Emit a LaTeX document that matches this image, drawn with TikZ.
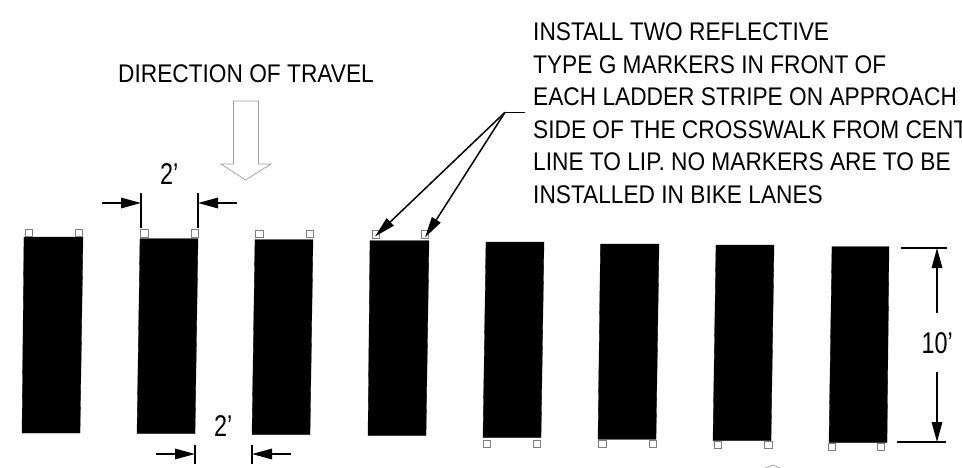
\documentclass[tikz,border=0pt]{standalone}
\usepackage{fontspec}
\usetikzlibrary{arrows.meta}
\setmainfont[FakeStretch=0.89]{Liberation Sans}
\newfontfamily\dimfont[FakeStretch=0.78]{Liberation Sans}
\begin{document}
\begin{tikzpicture}[x=1pt,y=-1pt,
  stripe/.style={fill=black,draw=black,line width=0.3pt},
  marker/.style={draw=black!50,fill=white,line width=0.6pt},
  dimline/.style={draw=black,line width=1.5pt,-{Triangle[length=20pt,width=10.5pt]}},
  leaderline/.style={draw=black,line width=1.5pt,-{Triangle[length=21pt,width=10pt]}},
  tick/.style={draw=black,line width=1.4pt},
  label/.style={font=\fontsize{25.5}{25.5}\selectfont,inner sep=0pt,anchor=base west,text=black},
  dimlabel/.style={font=\dimfont\fontsize{30}{30}\selectfont,inner sep=0pt,anchor=base west,text=black},
  bigarrow/.style={draw=black!38,line width=0.7pt,fill=white}
]
\useasboundingbox (0,0) rectangle (962,468);
\clip (0,0) rectangle (962,468);
% stripes
\foreach \a/\b/\c/\d/\e/\f in {
 24/83/237/22/80/433, 140/198/238.7/137/195/433.7, 255/313/239.5/252/310/434.5,
 370/429/240.5/368/426/435.5, 486/544/242/483/541/437.7, 600.5/659/244/598/656/439.3,
 716/774/245/713/771/440.5, 832/889/246.5/829/887/442.5}{
  \path[stripe] (\a,\c) -- (\b,\c) -- (\e,\f) -- (\d,\f) -- cycle;
}
% markers
\foreach \x/\y in {25/229,75/229,140.5/229.5,191/229.5,255.5/230,306/230,372/230.5,421/230.5,
 483/440,533/440,598.5/440,649/440,714/441,764.5/441,828/443,877/443}{
  \path[marker] (\x,\y) rectangle ++(7.5,7.5);
}
% direction arrow
\node[label] (dir) at (118,83) {DIRECTION OF TRAVEL};
\path[bigarrow] (233.5,101) -- (258.5,101) -- (258.5,164) -- (271,164) -- (245.5,180) -- (221,164) -- (233.5,164) -- cycle;
\path[draw=black!38,line width=0.7pt] (765,468) -- (773,465) -- (780,468);
% top dimension
\node[dimlabel] (dt) at (160,185) {2’};
\coordinate (t1a) at (141,193); \coordinate (t1b) at (141,228);
\coordinate (t2a) at (198,193); \coordinate (t2b) at (198,228);
\coordinate (t1s) at (102,203); \coordinate (t1e) at (141,203);
\coordinate (t2s) at (237,203); \coordinate (t2e) at (198,203);
\draw[tick] (t1a) -- (t1b); \draw[tick] (t2a) -- (t2b);
\draw[dimline] (t1s) -- (t1e); \draw[dimline] (t2s) -- (t2e);
% bottom dimension
\node[dimlabel] (db) at (214,436) {2’};
\coordinate (b1a) at (195,445); \coordinate (b1b) at (195,464);
\coordinate (b2a) at (252,445); \coordinate (b2b) at (252,464);
\coordinate (b1s) at (156,454); \coordinate (b1e) at (195,454);
\coordinate (b2s) at (291,454); \coordinate (b2e) at (252,454);
\draw[tick] (b1a) -- (b1b); \draw[tick] (b2a) -- (b2b);
\draw[dimline] (b1s) -- (b1e); \draw[dimline] (b2s) -- (b2e);
% leader
\coordinate (lk) at (505,112.3); \coordinate (le) at (525,112.3);
\coordinate (m1) at (375,236.5); \coordinate (m2) at (425,237.5);
\draw[line width=1.5pt] (le) -- (lk);
\draw[leaderline] (lk) -- (m1);
\draw[leaderline] (lk) -- (m2);
% note
\node[label] (n1) at (533,41) {INSTALL TWO REFLECTIVE};
\node[label] (n2) at (533,73.5) {TYPE G MARKERS IN FRONT OF};
\node[label] (n3) at (533,106) {EACH LADDER STRIPE ON APPROACH};
\node[label] (n4) at (533,138.5) {SIDE OF THE CROSSWALK FROM CENT};
\node[label] (n5) at (533,171) {LINE TO LIP. NO MARKERS ARE TO BE};
\node[label] (n6) at (533,203.5) {INSTALLED IN BIKE LANES};
% right dimension
\node[dimlabel] (dr) at (921.5,353) {10’};
\coordinate (r1a) at (900.5,248); \coordinate (r1b) at (947,248);
\coordinate (r2a) at (897,442); \coordinate (r2b) at (946,442);
\coordinate (r1e) at (937,248); \coordinate (r1s) at (937,313);
\coordinate (r2e) at (937,442); \coordinate (r2s) at (937,372);
\draw[tick] (r1a) -- (r1b); \draw[tick] (r2a) -- (r2b);
\draw[dimline] (r1s) -- (r1e); \draw[dimline] (r2s) -- (r2e);
\end{tikzpicture}
\end{document}
